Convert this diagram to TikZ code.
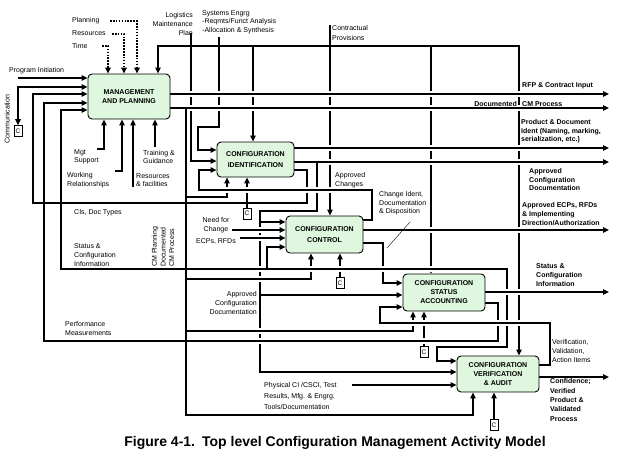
\documentclass[tikz,border=0pt]{standalone}
\usepackage{fontspec}
\setmainfont{Liberation Sans}
\usepackage{tikz}
\usetikzlibrary{arrows.meta, backgrounds}
\definecolor{boxgreen}{RGB}{222,247,222}

\tikzset{
  box/.style={draw, line width=0.9pt, rounded corners=4pt, fill=boxgreen, align=center, inner sep=0pt,
    font=\fontsize{7}{9}\selectfont\bfseries},
  cbox/.style={draw, line width=0.7pt, fill=white, minimum width=8pt, minimum height=11pt, inner sep=0pt,
    font=\fontsize{6.5}{7}\selectfont},
  link/.style={line width=1.4pt},
  flow/.style={link, ->},
  heavy/.style={line width=2.4pt},
  gap/.style={preaction={draw=white, line width=5.5pt, -}},
  dots/.style={line width=1.6pt, dash pattern=on 1.6pt off 1.3pt},
  lbl/.style={inner sep=0pt, align=left, font=\fontsize{7}{8.6}\selectfont},
  blbl/.style={lbl, font=\fontsize{7}{8.6}\selectfont\bfseries},
}

\begin{document}
\begin{tikzpicture}[x=1pt, y=-1pt, >={Triangle[length=6pt,width=5.5pt]}]
\useasboundingbox (0,0) rectangle (619,459);

\node[box, minimum width=82pt, minimum height=45pt] (mp) at (129,96.5) {MANAGEMENT\\AND PLANNING};
\node[box, minimum width=77pt, minimum height=35pt] (ci) at (255.5,159.5) {CONFIGURATION\\[2pt]IDENTIFICATION};
\node[box, minimum width=77pt, minimum height=37pt] (cc) at (324.5,234.5) {CONFIGURATION\\[2pt]CONTROL};
\node[box, minimum width=82pt, minimum height=37pt] (csa) at (444,292.5) {CONFIGURATION\\STATUS\\ACCOUNTING};
\node[box, minimum width=82pt, minimum height=36pt] (cva) at (498,374) {CONFIGURATION\\VERIFICATION\\\& AUDIT};

\node[cbox] (c0) at (18,131) {C};
\node[cbox] (c1) at (247,213.5) {C};
\node[cbox] (c2) at (340,283) {C};
\node[cbox] (c3) at (424,352) {C};
\node[cbox] (c4) at (494,425) {C};

\begin{scope}[on background layer]
\draw[dots, ->] (110,21) -| (mp.north -| 137,0);
\draw[dots, ->] (112,34) -| (mp.north -| 124,0);
\draw[dots, ->] (102,46) -| (mp.north -| 108,0);
\draw[flow] (191,33) |- (ci.west |- 0,161);
\draw[flow] (219,37) -- (219,127) -| (198,150) -- (ci.west |- 0,150);
\draw[flow] (330,25) -- (cc.north -| 330,0);
\draw[link, <->] (mp.north -| 158,0) |- (519,46) -- (cva.north -| 519,0);
\draw[flow] (253,46) -- (ci.north -| 253,0);
\draw[link, -{Triangle[open,length=5pt,width=6pt,line width=0.7pt]}] (431,46) -- (csa.north -| 431,0);

\draw[flow] (c1.north) -- (ci.south -| c1.north);
\draw[flow] (c2.north) -- (cc.south -| c2.north);
\draw[flow] (c3.north) -- (csa.south -| c3.north);
\draw[flow] (c4.north) -- (cva.south -| c4.north);
\draw[link, <->] (c0.north) |- (mp.west |- 0,87);

\draw[flow] (ci.east |- 0,170) -- (307,170) |- (33,203) |- (mp.west |- 0,94);
\draw[flow] (186,197) -| (ci.south -| 227,0);

\draw[flow, gap] (mp.east |- 0,94) -- (609,94);
\draw[flow, gap] (mp.east |- 0,108) -- (609,108);
\draw[flow, gap] (ci.east |- 0,148) -- (609,148);
\draw[flow, gap] (ci.east |- 0,162) -- (609,162);

\draw[flow] (317,162) -- (317,211) -| (260,372) -- (cva.west |- 0,372);
\draw[flow] (260,222) -- (cc.west |- 0,222);
\draw[flow] (260,295) -- (csa.west |- 0,295);

\draw[flow, gap] (cc.east |- 0,220) -- (372,220) |- (199,190) |- (ci.west |- 0,170);
\draw[flow, gap] (cc.east |- 0,230) -- (609,230);
\draw[flow] (cc.east |- 0,243) -- (383,243) |- (csa.west |- 0,283);
\draw[flow, gap] (232,230) -- (cc.west |- 0,230);
\draw[flow, heavy, gap] (240,238) -- (cc.west |- 0,238);
\draw[flow, heavy, gap] (186,279) -| (cc.south -| 311,0);
\draw[flow, gap] (186,331) -| (csa.south -| 413,0);

\draw[flow, gap] (240,269) -- (507,269) |- (437,347) |- (cva.west |- 0,361);
\draw[flow] (240,269) -| (61,110) -- (mp.west |- 0,110);
\draw[flow] (267,269) |- (cc.west |- 0,247);
\draw[link, gap] (csa.east |- 0,303) -- (498,303) |- (100,341);
\draw[flow] (100,341) -| (44,103) -- (mp.west |- 0,103);
\draw[flow, gap] (csa.east |- 0,292) -- (609,292);
\draw[flow, gap] (cva.east |- 0,365) -- (550,365) |- (380,323) |- (csa.west |- 0,307);
\draw[flow] (cva.east |- 0,377) -- (609,377);
\draw[flow] (186,108) -- (186,415) -| (cva.south -| 473,0);

\draw[flow] (18,78) -- (mp.west |- 0,78);
\draw[flow] (97,149) -| (mp.south -| 104,0);
\draw[flow] (115,171) -| (mp.south -| 122,0);
\draw[flow] (133,187) -- (mp.south -| 133,0);
\draw[flow] (155,147) -- (mp.south -| 155,0);
\draw[flow] (352,385) -- (cva.west |- 0,385);
\draw[line width=0.4pt] (387,248) -- (410,222);
\end{scope}

\node[lbl, anchor=west] (planlbl) at (72,21) {Planning};
\node[lbl, anchor=west] (reslbl) at (72,33) {Resources};
\node[lbl, anchor=west] (timelbl) at (72,46) {Time};
\node[lbl, anchor=east, align=right] (loglbl) at (193,24) {Logistics\\Maintenance\\Plan};
\node[lbl, anchor=west] (selbl) at (202,22) {Systems Engrg\\-Reqmts/Funct Analysis\\-Allocation \& Synthesis};
\node[lbl, anchor=west] (cplbl) at (332,33) {Contractual\\[2pt]Provisions};
\node[lbl, anchor=west] (pilbl) at (9,71) {Program Initiation};
\node[lbl, rotate=90] (comlbl) at (7,119) {Communication};
\node[lbl, anchor=west] (mgtlbl) at (74,157) {Mgt\\Support};
\node[lbl, anchor=west] (wrlbl) at (67,180) {Working\\Relationships};
\node[lbl, anchor=west] (rflbl) at (136,180) {Resources\\\& facilities};
\node[lbl, anchor=west] (tglbl) at (143,157) {Training \&\\Guidance};
\node[lbl, anchor=west] (cislbl) at (74,213) {CIs, Doc Types};
\node[lbl, anchor=west] (scilbl) at (74,255) {Status \&\\Configuration\\Information};
\node[lbl, rotate=90, anchor=west] (cmplbl) at (163,267) {CM Planning\\Documented\\CM Process};
\node[lbl, align=center] (nfclbl) at (216,225) {Need for\\Change};
\node[lbl, anchor=east] (ecplbl) at (236,241) {ECPs, RFDs};
\node[lbl, anchor=east, align=right] (acdlbl) at (257,303) {Approved\\Configuration\\Documentation};
\node[lbl, anchor=west] (pmlbl) at (65,328.5) {Performance\\Measurements};
\node[lbl, anchor=west] (phlbl) at (264,396) {Physical CI /CSCI, Test\\[2pt]Results, Mfg. \& Engrg.\\[2pt]Tools/Documentation};
\node[lbl, anchor=west] (aclbl) at (335,180) {Approved\\Changes};
\node[lbl, anchor=west] (cidlbl) at (379,203.5) {Change Ident,\\Documentation\\\& Disposition};

\node[blbl, anchor=west] (rfplbl) at (522,86) {RFP \& Contract Input};
\node[blbl, anchor=east] (doclbl) at (517,104) {Documented};
\node[blbl, anchor=west] (cmlbl) at (522,104) {CM Process};
\node[blbl, anchor=west] (pdlbl) at (521,131.5) {Product \& Document\\Ident (Naming, marking,\\serialization, etc.)};
\node[blbl, anchor=west] (acdrlbl) at (529,179.5) {Approved\\Configuration\\Documentation};
\node[blbl, anchor=west] (aecplbl) at (522,214) {Approved ECPs, RFDs\\\& Implementing\\Direction/Authorization};
\node[blbl, anchor=west] (scirlbl) at (536,275) {Status \&\\Configuration\\Information};
\node[lbl, anchor=west] (vvalbl) at (552,351) {Verification,\\Validation,\\Action Items};
\node[blbl, anchor=west] (conflbl) at (550,400) {Confidence;\\[0.8pt]Verified\\[0.8pt]Product \&\\[0.8pt]Validated\\[0.8pt]Process};

\node[font=\fontsize{14}{16}\selectfont\bfseries] (caption) at (335,443) {Figure 4-1.\enspace Top level Configuration Management Activity Model};
\end{tikzpicture}
\end{document}
